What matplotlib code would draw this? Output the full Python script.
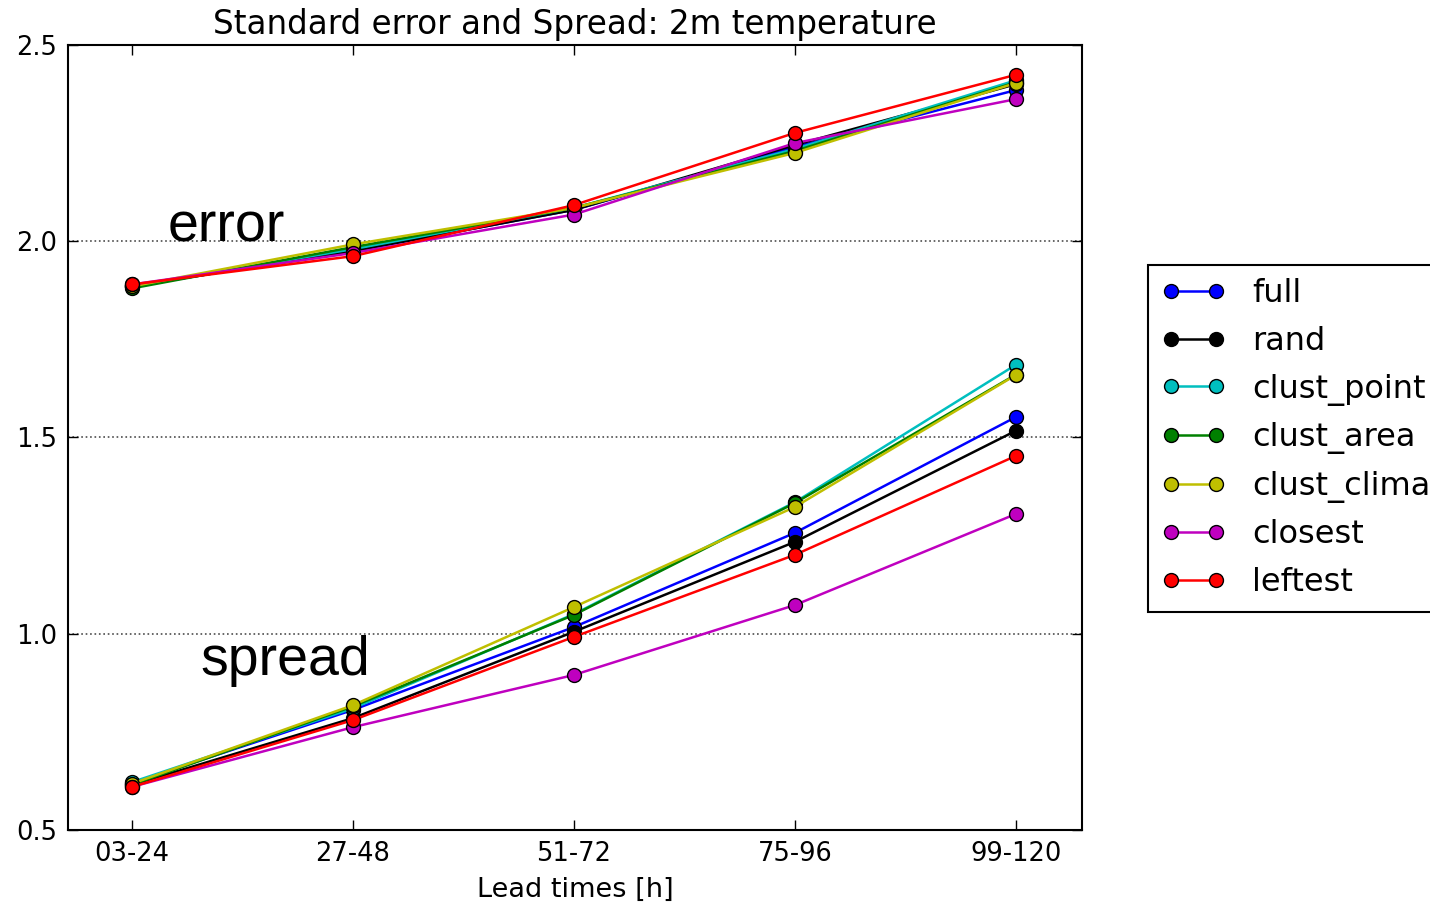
import matplotlib
matplotlib.use("Agg")
import matplotlib.pyplot as plt

lead_times = ["03-24", "27-48", "51-72", "75-96", "99-120"]
names = ["full", "rand", "clust_point", "clust_area", "clust_climate", "closest", "leftest"]
colors = ["#0000ff", "#000000", "#00bfbf", "#008000", "#bfbf00", "#bf00bf", "#ff0000"]

error_full = [1.885, 1.975, 2.080, 2.240, 2.385]
error_rand = [1.885, 1.975, 2.080, 2.245, 2.400]
error_clust_point = [1.885, 1.980, 2.085, 2.235, 2.410]
error_clust_area = [1.880, 1.985, 2.085, 2.230, 2.405]
error_clust_climate = [1.885, 1.992, 2.085, 2.225, 2.403]
error_closest = [1.890, 1.970, 2.068, 2.250, 2.362]
error_leftest = [1.890, 1.962, 2.092, 2.276, 2.424]

spread_full = [0.620, 0.806, 1.017, 1.257, 1.552]
spread_rand = [0.615, 0.785, 1.005, 1.234, 1.517]
spread_clust_point = [0.622, 0.810, 1.050, 1.335, 1.685]
spread_clust_area = [0.615, 0.815, 1.048, 1.333, 1.660]
spread_clust_climate = [0.618, 0.818, 1.068, 1.323, 1.659]
spread_closest = [0.610, 0.762, 0.895, 1.073, 1.305]
spread_leftest = [0.610, 0.780, 0.992, 1.201, 1.453]

errors = [error_full, error_rand, error_clust_point, error_clust_area,
          error_clust_climate, error_closest, error_leftest]
spreads = [spread_full, spread_rand, spread_clust_point, spread_clust_area,
           spread_clust_climate, spread_closest, spread_leftest]

fig = plt.figure(figsize=(14.3, 9.09), dpi=100)
ax = fig.add_axes([68/1430, 1 - 830/909, (1082-68)/1430, (830-45)/909])
x = list(range(len(lead_times)))

for name, col, e, s in zip(names, colors, errors, spreads):
    ax.plot(x, s, '-o', color=col, lw=1.8, ms=10, mec='k', mew=1.0)
    ax.plot(x, e, '-o', color=col, lw=1.8, ms=10, mec='k', mew=1.0, label=name)

ax.set_xlim(-0.29, 4.3)
ax.set_ylim(0.5, 2.5)
ax.set_xticks(x)
ax.set_xticklabels(lead_times)
ax.set_yticks([0.5, 1.0, 1.5, 2.0, 2.5])
ax.set_yticklabels(["0.5", "1.0", "1.5", "2.0", "2.5"])
ax.tick_params(direction='in', top=True, right=True, labelsize=18.5, length=7, width=1, pad=8)
ax.yaxis.grid(True, linestyle=':', color='0.3', lw=1.2)
for sp in ax.spines.values():
    sp.set_linewidth(1.5)

ax.set_title("Standard error and Spread: 2m temperature", fontsize=23.5, pad=8)
ax.set_xlabel("Lead times [h]", fontsize=19.5, labelpad=7)

ax.text(0.163, 2.0, "error", fontsize=40, family="Liberation Sans", va='baseline')
ax.text(0.31, 0.895, "spread", fontsize=40, family="Liberation Sans", va='baseline')

leg = fig.legend(loc='upper left', bbox_to_anchor=(1148/1430, 1 - 265/909),
                 numpoints=2, fontsize=23, fancybox=False, framealpha=1,
                 edgecolor='k', borderaxespad=0, handlelength=2.0,
                 handletextpad=0.85, labelspacing=0.52, borderpad=0.42)
leg.get_frame().set_linewidth(1.5)

fig.savefig("out.png", dpi=100)
